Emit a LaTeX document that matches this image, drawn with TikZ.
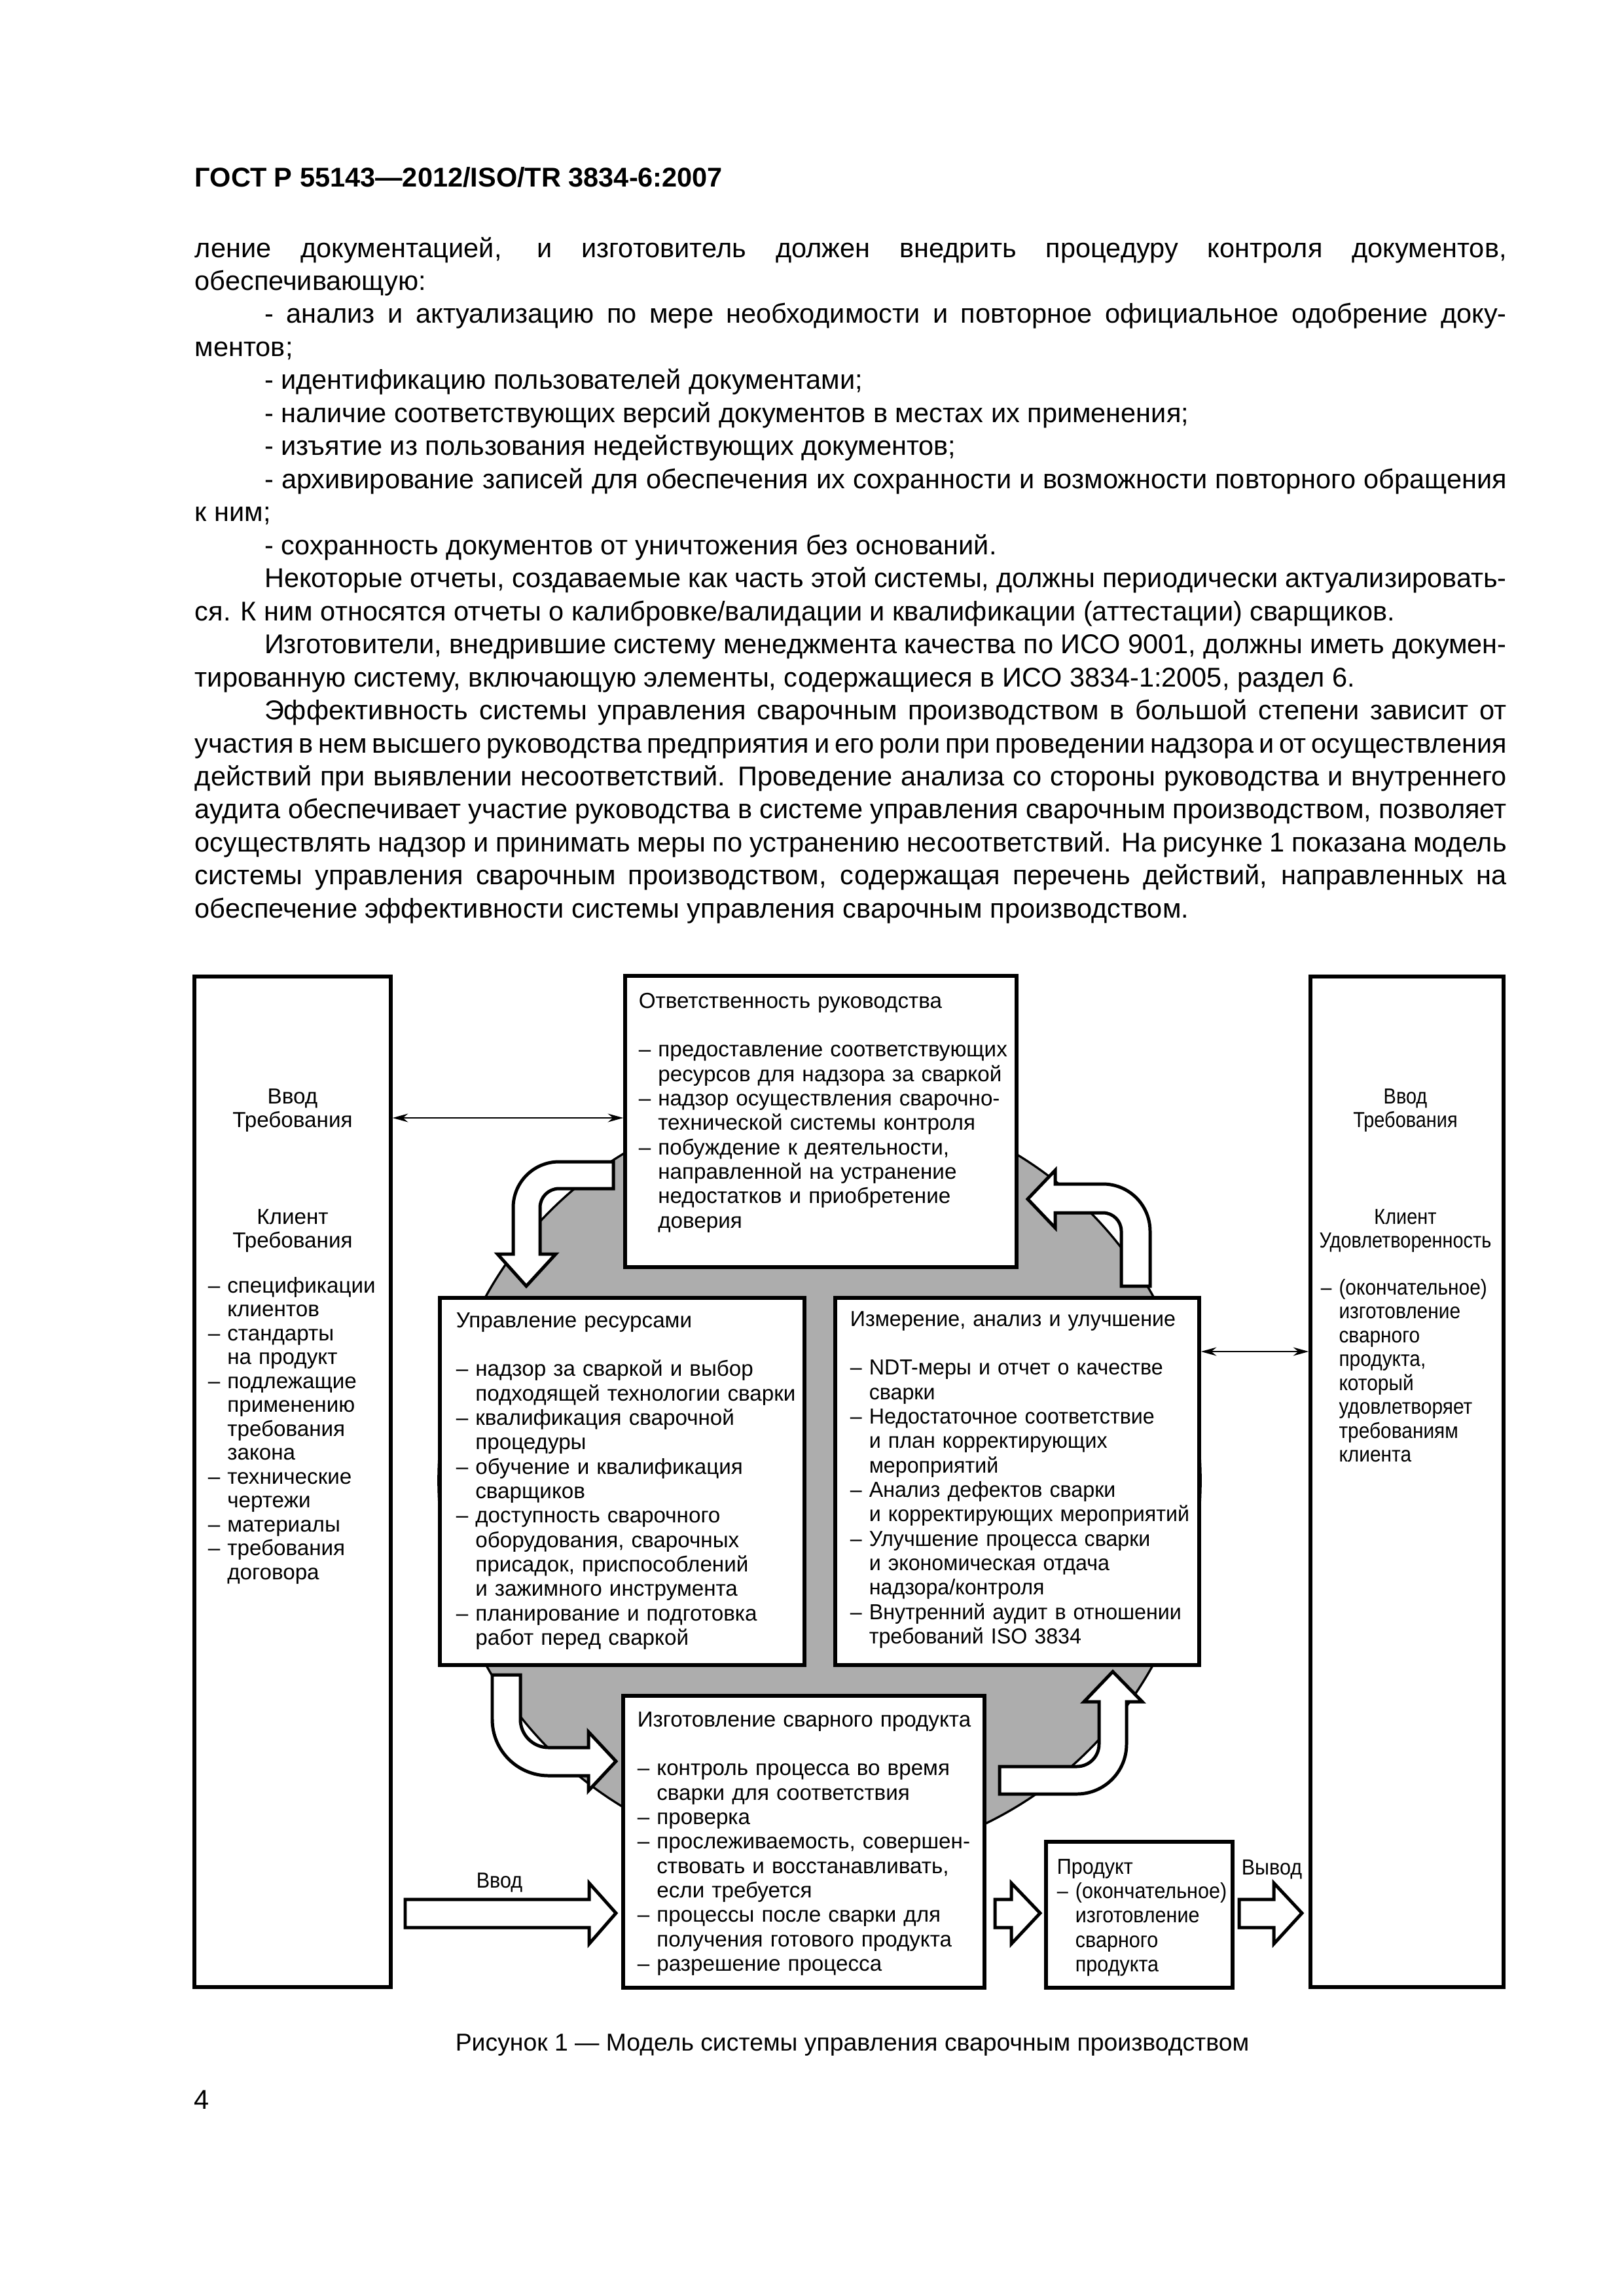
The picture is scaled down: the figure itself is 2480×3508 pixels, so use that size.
\documentclass[tikz,border=0pt]{standalone}
\usepackage{fontspec}
\setmainfont{Liberation Sans}
\newfontfamily\narrowsans[FakeStretch=0.87]{Liberation Sans}
\newfontfamily\listsans[FakeStretch=0.9]{Liberation Sans}
\newfontfamily\semisans[FakeStretch=0.92]{Liberation Sans}
\newfontfamily\nearsans[FakeStretch=0.97]{Liberation Sans}
\usetikzlibrary{arrows.meta,fit}
\definecolor{blobgray}{HTML}{ADADAD}
\newcommand{\ind}{\hphantom{–\ }}

\begin{document}
\begin{tikzpicture}[x=0.0084677cm, y=-0.0084677cm,
  frame/.style={draw, line width=1.3pt, fill=white, inner sep=0pt},
  boxtext/.style={anchor=base west, inner sep=0pt, align=left, text width=6cm,
    font=\fontsize{8}{9}\selectfont},
  sidehead/.style={anchor=base, inner sep=0pt, align=center, text width=2.5cm,
    font=\fontsize{8}{8.8}\selectfont},
  sidelist/.style={anchor=base west, inner sep=0pt, align=left, text width=2.5cm,
    font=\fontsize{8}{8.8}\selectfont},
  fatarrow/.style={draw, line width=1.2pt, fill=white, line join=miter},
  linkarrow/.style={line width=0.6pt, {Stealth[length=2mm,width=1.1mm]}-{Stealth[length=2mm,width=1.1mm]}}]

\useasboundingbox (0,0) rectangle (2480,3508);
\fill[white] (0,0) rectangle (2480,3508);

\node[anchor=base west, inner sep=0pt, font=\fontsize{10}{12}\selectfont\bfseries] (head) at (297,285)
  {ГОСТ Р 55143—2012/ISO/TR 3834-6:2007};

\node[anchor=base west, inner sep=0pt, text width=16.97cm, align=justify,
  font=\fontsize{10}{12.16}\selectfont] (body) at (297,393) {%
  \parindent=0.9cm \tolerance=10000 \hyphenpenalty=10000 \exhyphenpenalty=10000
  \noindent ление документацией, и изготовитель должен внедрить процедуру контроля документов,\linebreak
  обеспечивающую:\par
  - анализ и актуализацию по мере необходимости и повторное официальное одобрение доку-\linebreak
  ментов;\par
  - идентификацию пользователей документами;\par
  - наличие соответствующих версий документов в местах их применения;\par
  - изъятие из пользования недействующих документов;\par
  - архивирование записей для обеспечения их сохранности и возможности повторного обращения\linebreak
  к ним;\par
  - сохранность документов от уничтожения без оснований.\par
  Некоторые отчеты, создаваемые как часть этой системы, должны периодически актуализировать-\linebreak
  ся. К ним относятся отчеты о калибровке/валидации и квалификации (аттестации) сварщиков.\par
  Изготовители, внедрившие систему менеджмента качества по ИСО 9001, должны иметь докумен-\linebreak
  тированную систему, включающую элементы, содержащиеся в ИСО 3834-1:2005, раздел 6.\par
  Эффективность системы управления сварочным производством в большой степени зависит от\linebreak
  участия в нем высшего руководства предприятия и его роли при проведении надзора и от осуществления\linebreak
  действий при выявлении несоответствий. Проведение анализа со стороны руководства и внутреннего\linebreak
  аудита обеспечивает участие руководства в системе управления сварочным производством, позволяет\linebreak
  осуществлять надзор и принимать меры по устранению несоответствий. На рисунке 1 показана модель\linebreak
  системы управления сварочным производством, содержащая перечень действий, направленных на\linebreak
  обеспечение эффективности системы управления сварочным производством.};

% grey cycle behind the four process boxes
\filldraw[fill=blobgray, line width=0.8pt] (1252,2262) circle[radius=4.93cm];

\draw[fatarrow] (937,1775) -- (854,1775) .. controls (815.3,1775) and (784,1806.3) .. (784,1845)
  -- (784,1916) -- (760,1916) -- (804,1965) -- (849,1916) -- (825,1916) -- (825,1845)
  .. controls (825,1829) and (838,1816) .. (854,1816) -- (937,1816) -- cycle;
\draw[fatarrow] (1713,1965) -- (1757,1965) -- (1757,1881) .. controls (1757,1841.2) and (1724.8,1809) .. (1685,1809)
  -- (1612,1809) -- (1612,1788) -- (1570,1832) -- (1612,1876) -- (1612,1853) -- (1685,1853)
  .. controls (1700.5,1853) and (1713,1865.5) .. (1713,1881) -- cycle;
\draw[fatarrow] (752,2559) -- (752,2627) .. controls (752,2674.5) and (790.5,2713) .. (838,2713)
  -- (899,2713) -- (899,2736) -- (941,2691) -- (899,2646) -- (899,2670) -- (838,2670)
  .. controls (814.3,2670) and (795,2650.7) .. (795,2627) -- (795,2559) -- cycle;
\draw[fatarrow] (1527,2699) -- (1645,2699) .. controls (1663.8,2699) and (1679,2683.8) .. (1679,2665)
  -- (1679,2600) -- (1656,2600) -- (1700,2554) -- (1745,2600) -- (1721,2600) -- (1721,2665)
  .. controls (1721,2707) and (1687,2741) .. (1645,2741) -- (1527,2741) -- cycle;

\foreach \xa/\xb/\xc in {619/900/941, 1520/1545/1589, 1893/1946/1989}
  \draw[fatarrow] (\xa,2902) -- (\xb,2902) -- (\xb,2877) -- (\xc,2923) -- (\xb,2970) -- (\xb,2945) -- (\xa,2945) -- cycle;

\node[frame, fit={(297,1492) (597,3036)}] (reqbox) {};
\node[frame, fit={(2002,1492) (2297,3036)}] (satbox) {};
\node[frame, fit={(955,1491) (1553,1936)}] (resp) {};
\node[frame, fit={(672,1983) (1229,2544)}] (resmgmt) {};
\node[frame, fit={(1276,1983) (1832,2544)}] (measure) {};
\node[frame, fit={(952,2591) (1504,3037)}] (produce) {};
\node[frame, fit={(1598,2814) (1883,3037)}] (product) {};

\node[boxtext] (resptext) at (975,1540) {Ответственность руководства\\[9pt]
  – предоставление соответствующих\\ \ind ресурсов для надзора за сваркой\\
  – надзор осуществления сварочно-\\ \ind технической системы контроля\\
  – побуждение к деятельности,\\ \ind направленной на устранение\\
  \ind недостатков и приобретение\\ \ind доверия};

\node[boxtext] (restext) at (696,2028) {Управление ресурсами\\[9pt]
  – надзор за сваркой и выбор\\ \ind подходящей технологии сварки\\
  – квалификация сварочной\\ \ind процедуры\\
  – обучение и квалификация\\ \ind сварщиков\\
  – доступность сварочного\\ \ind оборудования, сварочных\\
  \ind присадок, приспособлений\\ \ind и зажимного инструмента\\
  – планирование и подготовка\\ \ind работ перед сваркой};

\node[boxtext, font=\fontsize{8}{9}\nearsans] (meastext) at (1298,2026) {Измерение, анализ и улучшение\\[9pt]
  – NDT-меры и отчет о качестве\\ \ind сварки\\
  – Недостаточное соответствие\\ \ind и план корректирующих\\ \ind мероприятий\\
  – Анализ дефектов сварки\\ \ind и корректирующих мероприятий\\
  – Улучшение процесса сварки\\ \ind и экономическая отдача\\ \ind надзора/контроля\\
  – Внутренний аудит в отношении\\ \ind требований ISO 3834};

\node[boxtext] (prodtext) at (973,2638) {Изготовление сварного продукта\\[9pt]
  – контроль процесса во время\\ \ind сварки для соответствия\\
  – проверка\\
  – прослеживаемость, совершен-\\ \ind ствовать и восстанавливать,\\ \ind если требуется\\
  – процессы после сварки для\\ \ind получения готового продукта\\
  – разрешение процесса};

\node[boxtext, font=\fontsize{8}{9}\semisans] (outtext) at (1614,2863) {Продукт\\ – (окончательное)\\ \ind изготовление\\
  \ind сварного\\ \ind продукта};

\node[sidehead] (reqin) at (447,1686) {Ввод\\ Требования};
\node[sidehead] (reqcl) at (447,1870) {Клиент\\ Требования};
\node[sidelist] (reqlist) at (317,1975) {– спецификации\\ \ind клиентов\\ – стандарты\\ \ind на продукт\\
  – подлежащие\\ \ind применению\\ \ind требования\\ \ind закона\\ – технические\\ \ind чертежи\\
  – материалы\\ – требования\\ \ind договора};

\node[sidehead, font=\fontsize{8}{8.8}\narrowsans] (satin) at (2147,1686) {Ввод\\ Требования};
\node[sidehead, font=\fontsize{8}{8.8}\narrowsans] (satcl) at (2147,1870) {Клиент\\ Удовлетворенность};
\node[sidelist, font=\fontsize{8}{8.8}\listsans] (satlist) at (2017,1978) {– (окончательное)\\ \ind изготовление\\ \ind сварного\\
  \ind продукта,\\ \ind который\\ \ind удовлетворяет\\ \ind требованиям\\ \ind клиента};

\node[anchor=base, inner sep=0pt, font=\fontsize{8}{9}\semisans] (inlabel) at (763,2884) {Ввод};
\node[anchor=base, inner sep=0pt, font=\fontsize{8}{9}\semisans] (outlabel) at (1943,2864) {Вывод};

\coordinate (linka) at (0,1708);
\coordinate (linkb) at (0,2065);
\draw[linkarrow] (reqbox.east |- linka) -- (resp.west |- linka);
\draw[linkarrow] (measure.east |- linkb) -- (satbox.west |- linkb);

\node[anchor=base, inner sep=0pt, font=\fontsize{9}{11}\selectfont] (caption) at (1302,3133)
  {Рисунок 1 — Модель системы управления сварочным производством};
\node[anchor=base west, inner sep=0pt, font=\fontsize{10}{12}\selectfont] (pageno) at (296,3222) {4};
\end{tikzpicture}
\end{document}
